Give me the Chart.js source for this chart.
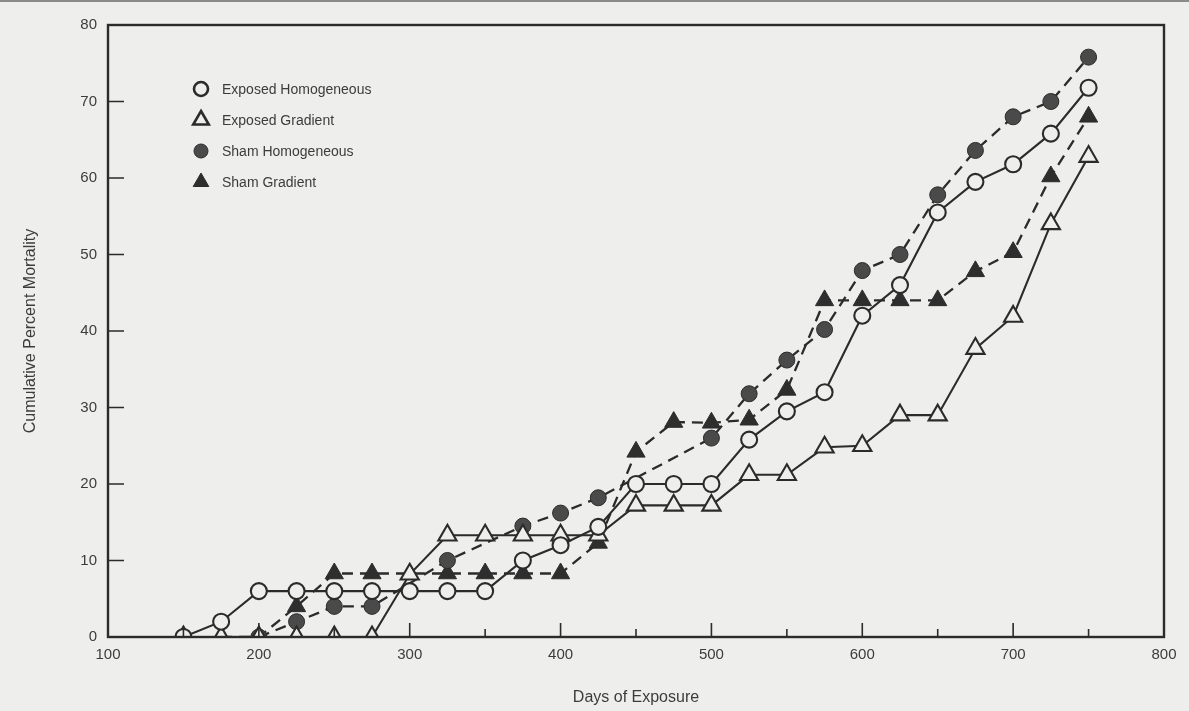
<!DOCTYPE html>
<html>
<head>
<meta charset="utf-8">
<script src="https://cdn.jsdelivr.net/npm/chart.js@4.4.1/dist/chart.umd.min.js"></script>
<style>
  html, body { margin: 0; padding: 0; background: #eeeeec; }
  body { width: 1189px; height: 711px; overflow: hidden; position: relative; }
  .topline { position: absolute; left: 0; right: 0; top: 0; height: 2px; background: #8a8a8a; }
  #wrap { position: absolute; left: 0; top: 0; width: 1189px; height: 711px; }
</style>
</head>
<body>
<div class="topline"></div>
<div id="wrap"><canvas id="mortality"></canvas></div>
<script>
// days of exposure, one sample every 25 days
const days = [150, 175, 200, 225, 250, 275, 300, 325, 350, 375, 400, 425, 450,
  475, 500, 525, 550, 575, 600, 625, 650, 675, 700, 725, 750];

// cumulative percent mortality per group (null = no point on that day)
const exposedHomogeneous = [0, 2, 6, 6, 6, 6, 6, 6, 6, 10, 12, 14.4, 20,
  20, 20, 25.8, 29.5, 32, 42, 46, 55.5, 59.5, 61.8, 65.8, 71.8];
const exposedGradient = [0, 0, 0, 0, 0, 0, 8.2, 13.3, 13.3, 13.3, 13.3, 13.3, 17.2,
  17.2, 17.2, 21.2, 21.2, 24.8, 25, 29, 29, 37.7, 41.9, 54, 62.8];
const shamHomogeneous = [null, null, 0, 2, 4, 4, null, 10, null, 14.5, 16.2, 18.2, null,
  null, 26, 31.8, 36.2, 40.2, 47.9, 50, 57.8, 63.6, 68, 70, 75.8];
const shamGradient = [null, 0, 0, 4, 8.3, 8.3, null, 8.3, 8.3, 8.3, 8.3, 12.3, 24.2,
  28.1, 28, 28.4, 32.3, 44, 44, 44, 44, 47.8, 50.3, 60.2, 68];

const xTicks = [100, 200, 300, 400, 500, 600, 700, 800];
const xMinorTicks = [150, 250, 350, 450, 550, 650, 750];
const yTicks = [0, 10, 20, 30, 40, 50, 60, 70, 80];

const INK = '#2b2b2b';
const PAPER = '#eeeeec';
const TEXT = '#3c3c3c';
const FONT = "'Liberation Sans', Arial, sans-serif";

const pts = arr => days.map((d, i) => ({ x: d, y: arr[i] }));

const datasets = [
  {
    label: 'Exposed Homogeneous', data: pts(exposedHomogeneous),
    pointStyle: 'circle', pointRadius: 8, backgroundColor: PAPER,
    borderColor: INK, borderWidth: 2.1, pointBorderWidth: 2.1
  },
  {
    label: 'Exposed Gradient', data: pts(exposedGradient),
    pointStyle: 'triangle', pointRadius: 10.5, backgroundColor: PAPER,
    borderColor: INK, borderWidth: 2.1, pointBorderWidth: 2.1
  },
  {
    label: 'Sham Homogeneous', data: pts(shamHomogeneous),
    pointStyle: 'circle', pointRadius: 8, backgroundColor: '#4a4a4a',
    borderColor: INK, borderWidth: 2.3, pointBorderWidth: 1, borderDash: [11, 7]
  },
  {
    label: 'Sham Gradient', data: pts(shamGradient),
    pointStyle: 'triangle', pointRadius: 10.5, backgroundColor: '#2e2e2e',
    borderColor: INK, borderWidth: 2.3, pointBorderWidth: 1, borderDash: [11, 7]
  }
];

// frame, inward ticks and the key in the upper left of the plot
const framePlugin = {
  id: 'frame',
  afterDraw(chart) {
    const { ctx, chartArea: a, scales: { x, y } } = chart;
    ctx.save();
    ctx.strokeStyle = INK;
    ctx.lineWidth = 2.4;
    ctx.strokeRect(a.left, a.top, a.right - a.left, a.bottom - a.top);

    ctx.lineWidth = 1.6;
    ctx.beginPath();
    xTicks.slice(1, -1).forEach(v => {
      const px = x.getPixelForValue(v);
      ctx.moveTo(px, a.bottom); ctx.lineTo(px, a.bottom - 14);
    });
    xMinorTicks.forEach(v => {
      const px = x.getPixelForValue(v);
      ctx.moveTo(px, a.bottom); ctx.lineTo(px, a.bottom - 8);
    });
    yTicks.slice(1, -1).forEach(v => {
      const py = y.getPixelForValue(v);
      ctx.moveTo(a.left, py); ctx.lineTo(a.left + 16, py);
    });
    ctx.stroke();

    // key
    const kx = a.left + 93, ky0 = a.top + 64, step = 31;
    ctx.font = '14px ' + FONT;
    ctx.textBaseline = 'middle';
    chart.data.datasets.forEach((ds, i) => {
      const ky = ky0 + i * step;
      ctx.fillStyle = ds.backgroundColor;
      ctx.strokeStyle = INK;
      ctx.lineWidth = i < 2 ? 2.6 : 1;
      Chart.helpers.drawPoint(ctx, {
        pointStyle: ds.pointStyle, radius: i % 2 ? 9 : 7, borderWidth: ctx.lineWidth
      }, kx, ky);
      ctx.fillStyle = TEXT;
      ctx.fillText(ds.label, kx + 21, ky + 1);
    });
    ctx.restore();
  }
};

new Chart(document.getElementById('mortality'), {
  type: 'line',
  data: { datasets },
  options: {
    responsive: true,
    maintainAspectRatio: false,
    animation: false,
    spanGaps: true,
    layout: { padding: { left: 0, right: 25, top: 25, bottom: 0 } },
    plugins: { legend: { display: false }, tooltip: { enabled: false } },
    elements: { line: { tension: 0 } },
    scales: {
      x: {
        type: 'linear', min: 100, max: 800,
        afterBuildTicks: s => { s.ticks = xTicks.map(v => ({ value: v })); },
        afterFit: s => { s.height = 74; },
        grid: { display: false, drawTicks: false },
        border: { display: false },
        ticks: { color: TEXT, padding: 9, font: { family: FONT, size: 15 }, maxRotation: 0 },
        title: {
          display: true, text: 'Days of Exposure', color: TEXT,
          font: { family: FONT, size: 16 }, padding: { top: 0, bottom: 4 }
        }
      },
      y: {
        type: 'linear', min: 0, max: 80,
        afterBuildTicks: s => { s.ticks = yTicks.map(v => ({ value: v })); },
        afterFit: s => { s.width = 108; },
        grid: { display: false, drawTicks: false },
        border: { display: false },
        ticks: { color: TEXT, padding: 11, font: { family: FONT, size: 15 } },
        title: {
          display: true, text: 'Cumulative Percent Mortality', color: TEXT,
          font: { family: FONT, size: 16 }, padding: { top: 21, bottom: 0 }
        }
      }
    }
  },
  plugins: [framePlugin]
});
</script>
</body>
</html>
